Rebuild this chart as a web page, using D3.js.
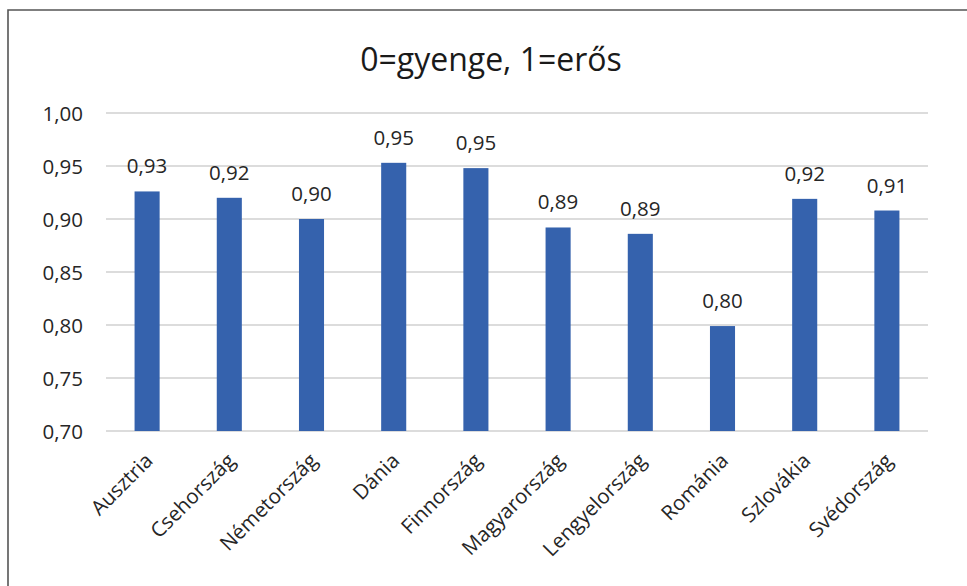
<!DOCTYPE html>
<html><head><meta charset="utf-8">
<script src="https://cdn.jsdelivr.net/npm/d3@7"></script>
<style>body{margin:0;background:#fff}svg{display:block}</style>
</head><body>
<script>
const categories = ["Ausztria","Csehország","Németország","Dánia","Finnország","Magyarország","Lengyelország","Románia","Szlovákia","Svédország"];
const values = [0.926,0.920,0.900,0.953,0.948,0.892,0.886,0.799,0.919,0.908];
const yTicks = [0.70,0.75,0.80,0.85,0.90,0.95,1.00];
const title = "0=gyenge, 1=erős";

const W=967,H=586;
const svg=d3.select("body").append("svg").attr("width",W).attr("height",H);
const font="'Open Sans', sans-serif";
const txt="#262626";
const fs=20.5;
const fmt=v=>d3.format(".2f")(v).replace(".",",");

// frame
svg.append("path").attr("d",`M8,${H} L8,10 L${W},10`).attr("fill","none").attr("stroke","#555").attr("stroke-width",1.6);

const x=d3.scaleBand().domain(categories).range([106,928]).paddingInner(0.695).paddingOuter(0.3475);
const y=d3.scaleLinear().domain([0.70,1.00]).range([431,113]);

// gridlines
svg.append("g").selectAll("line").data(yTicks).join("line")
 .attr("x1",106).attr("x2",928).attr("y1",d=>y(d)).attr("y2",d=>y(d))
 .attr("stroke","#d0d0d0").attr("stroke-width",1.6);

// y axis
const yAxis=d3.axisLeft(y).tickValues(yTicks).tickFormat(fmt).tickSize(0).tickPadding(0);
const gy=svg.append("g").attr("transform","translate(83,0)").call(yAxis);
gy.select(".domain").remove();
gy.selectAll("text").attr("font-family",font).attr("font-size",fs).attr("fill",txt).attr("dy","0.35em");

// bars
svg.append("g").selectAll("rect").data(values).join("rect")
 .attr("x",(d,i)=>x(categories[i])).attr("width",x.bandwidth())
 .attr("y",d=>y(d)).attr("height",d=>y(0.70)-y(d)).attr("fill","#3562ad");

// data labels
svg.append("g").selectAll("text").data(values).join("text")
 .attr("x",(d,i)=>x(categories[i])+x.bandwidth()/2).attr("y",d=>y(d)-18)
 .attr("text-anchor","middle").attr("font-family",font).attr("font-size",fs).attr("fill",txt)
 .text(d=>fmt(d));

// x axis labels
const xAxis=d3.axisBottom(x).tickSize(0).tickPadding(0);
const gx=svg.append("g").attr("transform","translate(0,431)").call(xAxis);
gx.select(".domain").remove();
gx.selectAll("text").attr("font-family",font).attr("font-size",fs).attr("fill",txt)
 .attr("text-anchor","end").attr("dy",null).attr("y",0)
 .attr("transform","translate(7,31) rotate(-45)");

// title
svg.append("text").attr("x",491).attr("y",71).attr("text-anchor","middle")
 .attr("font-family",font).attr("font-size",32).attr("fill","#1a1a1a").text(title);
</script>
</body></html>
